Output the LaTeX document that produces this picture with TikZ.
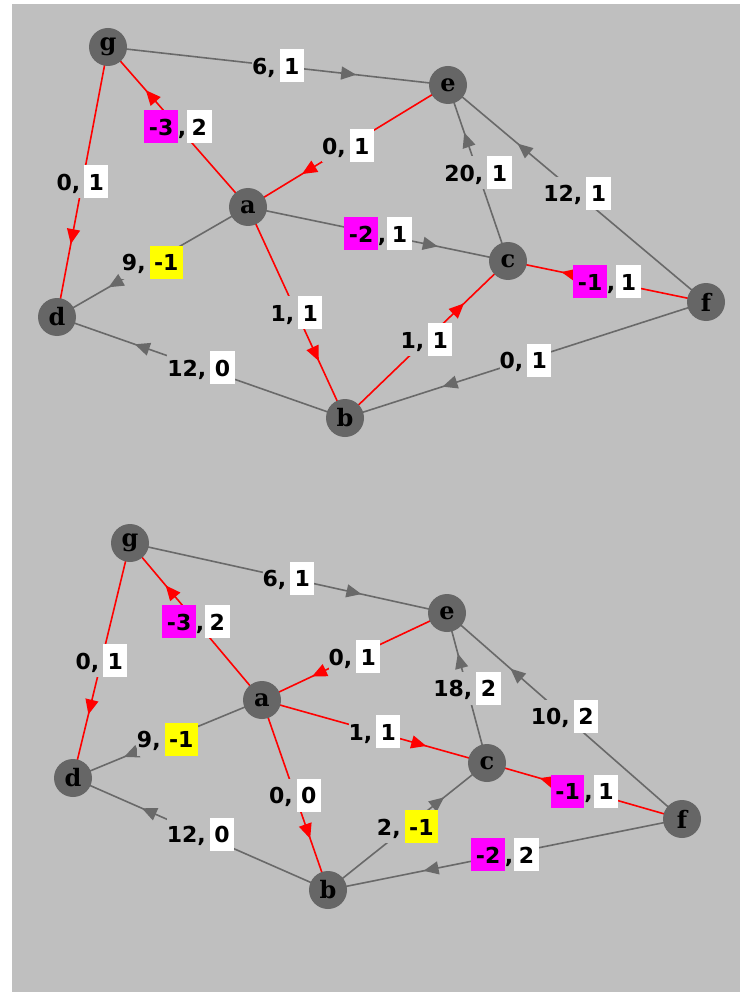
\documentclass[tikz,border=0pt]{standalone}
\usepackage{fontspec}
\newfontfamily\lsans{DejaVu Sans}
\newfontfamily\lserif{DejaVu Serif}
\usetikzlibrary{decorations.markings,arrows.meta}
\definecolor{bggray}{RGB}{191,191,191}
\definecolor{nodegray}{RGB}{102,102,102}
\definecolor{edgegray}{RGB}{105,105,105}
\definecolor{hlmag}{RGB}{255,0,255}
\definecolor{hlyel}{RGB}{255,255,0}
\pgfdeclarelayer{edges}
\pgfsetlayers{edges,main}
\newcommand\pbox[2]{{\setlength{\fboxsep}{0pt}\colorbox{#1}{\rule[-8pt]{0pt}{33pt}\hspace{4.5pt}#2\hspace{4.5pt}}}}
% plain first number
\newcommand\elab[2]{#1,\hspace{4pt}\pbox{white}{#2}}
% highlighted first number
\newcommand\elabh[3]{\pbox{#1}{#2},\kern1pt\pbox{white}{#3}}
% highlighted second number
\newcommand\elabs[3]{#1,\hspace{4pt}\pbox{#2}{#3}}
\tikzset{
  vtx/.style={circle, fill=nodegray, minimum size=38pt, inner sep=0pt,
    font=\lserif\bfseries\fontsize{24}{24}\selectfont, text=black},
  ge/.style={color=edgegray, line width=1.6pt, postaction={decorate},
    decoration={markings, mark=at position 0.73 with {\arrow{Triangle[length=15pt,width=13pt]}}}},
  re/.style={ge, color=red},
  lbl/.style={fill=bggray, inner sep=0pt, text=black,
    font=\lsans\bfseries\fontsize{22}{24}\selectfont},
}
\begin{document}
\begin{tikzpicture}[x=1pt,y=-1pt]
\useasboundingbox (0,0) rectangle (740,992);
% top graph nodes
\node[vtx] (g1) at (108,47) {g};
\node[vtx] (e1) at (448,85) {e};
\node[vtx] (a1) at (248,207) {a};
\node[vtx] (c1) at (508,261) {c};
\node[vtx] (f1) at (706,302) {f};
\node[vtx] (d1) at (57,317) {d};
\node[vtx] (b1) at (345,418) {b};
% bottom graph nodes
\node[vtx] (g2) at (130,543) {g};
\node[vtx] (e2) at (447,613) {e};
\node[vtx] (a2) at (262,700) {a};
\node[vtx] (c2) at (487,763) {c};
\node[vtx] (f2) at (682,819) {f};
\node[vtx] (d2) at (73,778) {d};
\node[vtx] (b2) at (328,890) {b};
\begin{pgfonlayer}{edges}
\fill[bggray] (12,4) rectangle (740,992);
% top edges
\draw[ge] (g1.center) -- node[lbl,midway]{\elab{6}{1}} (e1.center);
\draw[re] (a1.center) -- node[lbl,midway]{\elabh{hlmag}{-3}{2}} (g1.center);
\draw[re] (e1.center) -- node[lbl,midway]{\elab{0}{1}} (a1.center);
\draw[ge] (c1.center) -- node[lbl,midway]{\elab{20}{1}} (e1.center);
\draw[ge] (f1.center) -- node[lbl,midway]{\elab{12}{1}} (e1.center);
\draw[re] (g1.center) -- node[lbl,midway]{\elab{0}{1}} (d1.center);
\draw[ge] (a1.center) -- node[lbl,midway]{\elabs{9}{hlyel}{-1}} (d1.center);
\draw[ge] (a1.center) -- node[lbl,midway]{\elabh{hlmag}{-2}{1}} (c1.center);
\draw[re] (f1.center) -- node[lbl,midway]{\elabh{hlmag}{-1}{1}} (c1.center);
\draw[re] (a1.center) -- node[lbl,midway]{\elab{1}{1}} (b1.center);
\draw[re] (b1.center) -- node[lbl,midway]{\elab{1}{1}} (c1.center);
\draw[ge] (f1.center) -- node[lbl,midway]{\elab{0}{1}} (b1.center);
\draw[ge] (b1.center) -- node[lbl,midway]{\elab{12}{0}} (d1.center);
% bottom edges
\draw[ge] (g2.center) -- node[lbl,midway]{\elab{6}{1}} (e2.center);
\draw[re] (a2.center) -- node[lbl,midway]{\elabh{hlmag}{-3}{2}} (g2.center);
\draw[re] (e2.center) -- node[lbl,midway]{\elab{0}{1}} (a2.center);
\draw[ge] (c2.center) -- node[lbl,midway]{\elab{18}{2}} (e2.center);
\draw[ge] (f2.center) -- node[lbl,midway]{\elab{10}{2}} (e2.center);
\draw[re] (g2.center) -- node[lbl,midway]{\elab{0}{1}} (d2.center);
\draw[ge] (a2.center) -- node[lbl,midway]{\elabs{9}{hlyel}{-1}} (d2.center);
\draw[re] (a2.center) -- node[lbl,midway]{\elab{1}{1}} (c2.center);
\draw[re] (f2.center) -- node[lbl,midway]{\elabh{hlmag}{-1}{1}} (c2.center);
\draw[re] (a2.center) -- node[lbl,midway]{\elab{0}{0}} (b2.center);
\draw[ge] (b2.center) -- node[lbl,midway]{\elabs{2}{hlyel}{-1}} (c2.center);
\draw[ge] (f2.center) -- node[lbl,midway]{\elabh{hlmag}{-2}{2}} (b2.center);
\draw[ge] (b2.center) -- node[lbl,midway]{\elab{12}{0}} (d2.center);
\end{pgfonlayer}
\end{tikzpicture}
\end{document}
